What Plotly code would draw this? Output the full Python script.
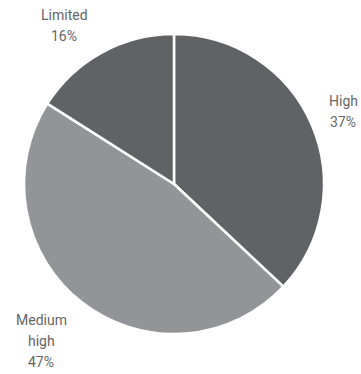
import plotly.graph_objects as go

labels = ["High", "Medium high", "Limited"]
label_lines = [["High"], ["Medium", "high"], ["Limited"]]
values = [37, 47, 16]
colors = ["#616265", "#939497", "#616265"]

W, H = 361, 374
cx, cy, r = 174, 184, 150

fig = go.Figure(go.Pie(
    labels=labels,
    values=values,
    sort=False,
    direction="clockwise",
    rotation=0,
    textinfo="none",
    hoverinfo="label+percent",
    marker=dict(colors=colors, line=dict(color="white", width=2.5)),
    domain=dict(x=[(cx - r) / W, (cx + r) / W],
                y=[(H - cy - r) / H, (H - cy + r) / H]),
    showlegend=False,
))

# label anchor positions (pixels from top-left), centre of text block
label_pos = [(343, 112), (41, 341), (64, 25)]
for (lx, ly), lines, v in zip(label_pos, label_lines, values):
    txt = lines + [f"{v}%"]
    n = len(txt)
    for i, t in enumerate(txt):
        y = ly + (i - (n - 1) / 2) * 21
        fig.add_annotation(
            x=lx / W, y=1 - y / H, xref="paper", yref="paper",
            text=t, showarrow=False, xanchor="center", yanchor="middle",
            font=dict(family="Roboto", size=14, color="#666666"),
        )

fig.update_layout(
    width=W, height=H,
    margin=dict(l=0, r=0, t=0, b=0),
    paper_bgcolor="white", plot_bgcolor="white",
)

fig.write_html("out.html", config={"displayModeBar": False},
               post_script="document.body.style.margin='0';document.body.style.overflow='hidden';")
